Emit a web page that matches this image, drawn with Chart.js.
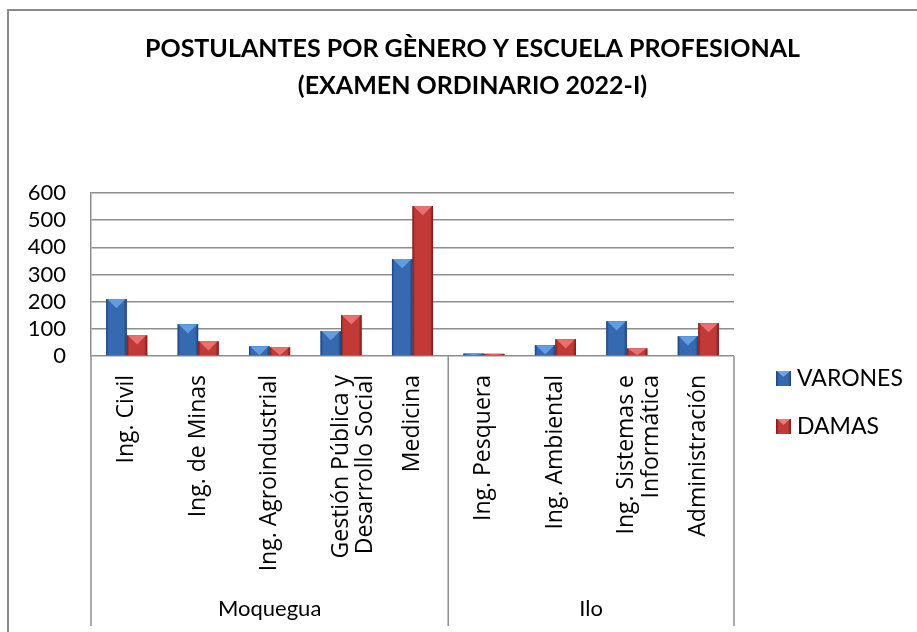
<!DOCTYPE html>
<html>
<head>
<meta charset="utf-8">
<script src="https://cdn.jsdelivr.net/npm/chart.js@4/dist/chart.umd.min.js"></script>
<style>
  html, body { margin: 0; padding: 0; background: #fff; overflow: hidden; width: 917px; height: 632px; }
  #frame { position: absolute; left: 7px; top: 9px; width: 940px; height: 660px; border: 2px solid #8a8a8a; box-sizing: border-box; }
  #wrap { position: absolute; left: 0; top: 0; width: 917px; height: 632px; }
</style>
</head>
<body>
<div id="frame"></div>
<div id="wrap"><canvas id="c" width="917" height="632"></canvas></div>
<script>
const categories = ['Ing. Civil', 'Ing. de Minas', 'Ing. Agroindustrial', ['Gestión Pública y', 'Desarrollo Social'], 'Medicina',
                    'Ing. Pesquera', 'Ing. Ambiental', ['Ing. Sistemas e', 'Informática'], 'Administración'];
const groups = ['Moquegua', 'Ilo'];
const groupSizes = [5, 4];
const varones = [210, 117, 36, 92, 357, 9, 40, 128, 73];
const damas = [76, 54, 32, 150, 552, 8, 62, 28, 121];
const seriesNames = ['VARONES', 'DAMAS'];
const yMin = 0, yMax = 600, yStep = 100;
const titleLines = ['POSTULANTES POR GÈNERO Y ESCUELA PROFESIONAL', '(EXAMEN ORDINARIO 2022-I)'];

const BLUE = '#3569b0', BLUE_D = '#1d4279', BLUE_L = '#6aa6ea';
const RED = '#c23a37', RED_D = '#7d1717', RED_L = '#f07a78';
const shades = [[BLUE, BLUE_D, BLUE_L], [RED, RED_D, RED_L]];

const bevelPlugin = {
  id: 'bevel',
  afterDatasetsDraw(chart) {
    const ctx = chart.ctx;
    chart.data.datasets.forEach((ds, di) => {
      const meta = chart.getDatasetMeta(di);
      const [base, dark, light] = shades[di];
      meta.data.forEach(bar => {
        const w = bar.width, x0 = bar.x - w / 2, top = bar.y, bot = bar.base;
        const h = bot - top;
        if (h <= 0) return;
        ctx.save();
        const g = ctx.createLinearGradient(x0, 0, x0 + w, 0);
        g.addColorStop(0, dark);
        g.addColorStop(0.12, base);
        g.addColorStop(0.85, base);
        g.addColorStop(1, dark);
        ctx.fillStyle = g;
        ctx.fillRect(x0, top, w, h);
        const t = Math.min(h, w * 0.45);
        ctx.beginPath();
        ctx.moveTo(x0 + 1, top);
        ctx.lineTo(x0 + w - 1, top);
        ctx.lineTo(bar.x, top + t);
        ctx.closePath();
        ctx.fillStyle = light;
        ctx.globalAlpha = 0.85;
        ctx.fill();
        ctx.restore();
      });
    });
  }
};

const groupAxisPlugin = {
  id: 'groupAxis',
  afterDraw(chart) {
    const ctx = chart.ctx;
    const xs = chart.scales.x;
    const bottom = chart.chartArea.bottom;
    const n = categories.length;
    ctx.save();
    ctx.strokeStyle = '#8e8e8e';
    ctx.lineWidth = 1.5;
    let idx = 0;
    const bounds = [xs.left];
    groupSizes.forEach(s => { idx += s; bounds.push(idx >= n ? xs.right : (xs.getPixelForValue(idx - 1) + xs.getPixelForValue(idx)) / 2); });
    bounds.forEach(b => {
      ctx.beginPath();
      ctx.moveTo(b, bottom);
      ctx.lineTo(b, 626);
      ctx.stroke();
    });
    ctx.fillStyle = '#000';
    ctx.font = '22px Lato';
    ctx.textAlign = 'center';
    ctx.textBaseline = 'middle';
    groups.forEach((g, i) => {
      ctx.fillText(g, (bounds[i] + bounds[i + 1]) / 2, 609);
    });
    // legend
    ctx.textAlign = 'left';
    const ly = [378, 426];
    seriesNames.forEach((name, i) => {
      const [base, dark, light] = shades[i];
      const sx = 776, sy = ly[i] - 7, sz = 15;
      const g = ctx.createLinearGradient(sx, 0, sx + sz, 0);
      g.addColorStop(0, dark); g.addColorStop(0.2, base); g.addColorStop(0.8, base); g.addColorStop(1, dark);
      ctx.fillStyle = g;
      ctx.fillRect(sx, sy, sz, sz);
      ctx.beginPath();
      ctx.moveTo(sx + 1, sy); ctx.lineTo(sx + sz - 1, sy); ctx.lineTo(sx + sz / 2, sy + 6); ctx.closePath();
      ctx.fillStyle = light; ctx.fill();
      ctx.fillStyle = '#000';
      ctx.font = '23px Lato';
      ctx.fillText(name, sx + 21, ly[i] + 1);
    });
    ctx.restore();
  }
};

new Chart(document.getElementById('c'), {
  type: 'bar',
  data: {
    labels: categories,
    datasets: [
      { label: seriesNames[0], data: varones, backgroundColor: BLUE, barPercentage: 1.0, categoryPercentage: 0.575 },
      { label: seriesNames[1], data: damas, backgroundColor: RED, barPercentage: 1.0, categoryPercentage: 0.575 }
    ]
  },
  options: {
    responsive: false,
    animation: false,
    layout: { padding: { left: 28, right: 0, top: 0, bottom: 0 } },
    plugins: {
      legend: { display: false },
      tooltip: { enabled: false },
      title: {
        display: true,
        text: titleLines,
        color: '#000',
        font: { family: 'Lato', size: 25, weight: 'bold', lineHeight: 1.5 },
        padding: { top: 30, bottom: 88 }
      }
    },
    scales: {
      x: {
        grid: { display: false, drawTicks: false },
        border: { display: false },
        ticks: {
          autoSkip: false, minRotation: 90, maxRotation: 90, padding: 19,
          color: '#000', font: { family: 'Open Sans', size: 23, lineHeight: 1.05 }
        },
        afterFit(scale) { scale.height = 276; }
      },
      y: {
        min: yMin, max: yMax,
        ticks: { stepSize: yStep, autoSkip: false, padding: 25, color: '#000', font: { family: 'Lato', size: 22 } },
        grid: { color: '#8e8e8e', lineWidth: 1.5, drawTicks: false },
        border: { display: true, color: '#8e8e8e', width: 1.5 },
        afterFit(scale) { scale.width = 63; }
      },
      legendSpace: {
        type: 'linear',
        position: 'right',
        display: true,
        grid: { display: false, drawTicks: false },
        border: { display: false },
        ticks: { display: false },
        afterFit(scale) { scale.width = 183; }
      }
    }
  },
  plugins: [bevelPlugin, groupAxisPlugin]
});
</script>
</body>
</html>
